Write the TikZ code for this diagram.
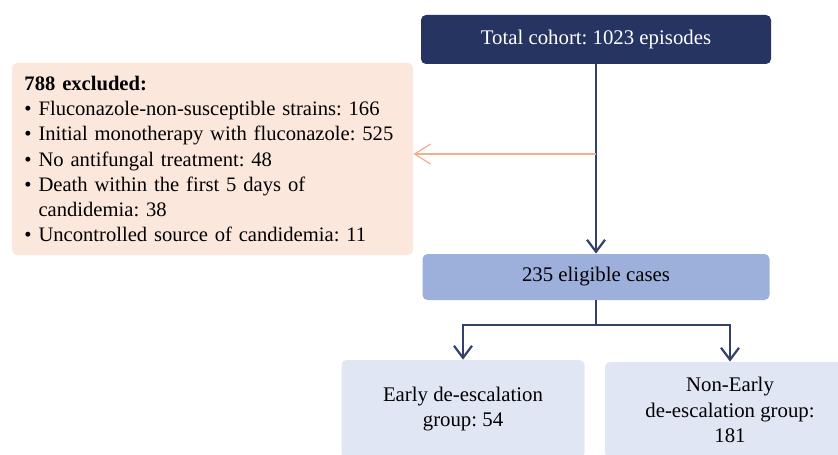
\documentclass[tikz,border=0pt]{standalone}
\usepackage{fontspec}
\setmainfont{Liberation Serif}
\usetikzlibrary{arrows.meta}
\frenchspacing

\definecolor{cohortblue}{HTML}{263461}
\definecolor{linenavy}{HTML}{34406A}
\definecolor{eligblue}{HTML}{9DB0DB}
\definecolor{groupblue}{HTML}{E1E6F4}
\definecolor{exclpeach}{HTML}{FCE7DD}
\definecolor{exclorange}{HTML}{F2AE86}

\begin{document}
\begin{tikzpicture}[x=0.5pt,y=-0.5pt,
    flowbox/.style={rectangle,rounded corners=2.5pt,inner sep=0pt,align=center,
      font=\fontsize{10.4}{12.65}\selectfont},
    navyarrow/.style={draw=linenavy,line width=1.1pt,-{Straight Barb[length=6pt,width=9pt]}},
    navyline/.style={draw=linenavy,line width=1.1pt},
    exclarrow/.style={draw=exclorange,line width=0.6pt,-{Straight Barb[length=8pt,width=10pt]}}]
    \useasboundingbox (0,0) rectangle (838,454);
    \clip (0,0) rectangle (838,454);

    % main boxes
    \node[flowbox,fill=cohortblue,text=white,minimum width=175pt,minimum height=24.5pt] (total) at (596,39.5) {Total cohort: 1023 episodes};
    \node[flowbox,fill=eligblue,minimum width=173.5pt,minimum height=23pt] (eligible) at (596,277) {235 eligible cases};

    % excluded box
    \node[flowbox,fill=exclpeach,align=left,text width=188pt,inner xsep=6.25pt,minimum height=96pt,
      font=\fontsize{10.3}{12.65}\selectfont] (excluded) at (212.5,159) {\textbf{788 excluded:}\\
      \textbullet\ Fluconazole-non-susceptible strains: 166\\
      \textbullet\ Initial monotherapy with fluconazole: 525\\
      \textbullet\ No antifungal treatment: 48\\
      \textbullet\ Death within the first 5 days of\\
      \phantom{\textbullet\ }candidemia: 38\\
      \textbullet\ Uncontrolled source of candidemia: 11};

    % groups
    \node[flowbox,fill=groupblue,minimum width=121.5pt,minimum height=49pt] (early) at (463,409) {Early de-escalation\\group: 54};
    \node[flowbox,fill=groupblue,minimum width=125pt,minimum height=48pt] (nonearly) at (730,410) {Non-Early\\de-escalation group:\\181};

    % connectors
    \coordinate (exclsplit) at (596,154);
    \coordinate (fork) at (596,325);
    \draw[navyarrow] (total) -- (eligible);
    \draw[exclarrow] (exclsplit) -- (exclsplit -| excluded.east);
    \draw[navyline] (eligible) -- (fork);
    \draw[navyarrow] (fork) -| (early);
    \draw[navyarrow] (fork) -| (nonearly);
\end{tikzpicture}
\end{document}
